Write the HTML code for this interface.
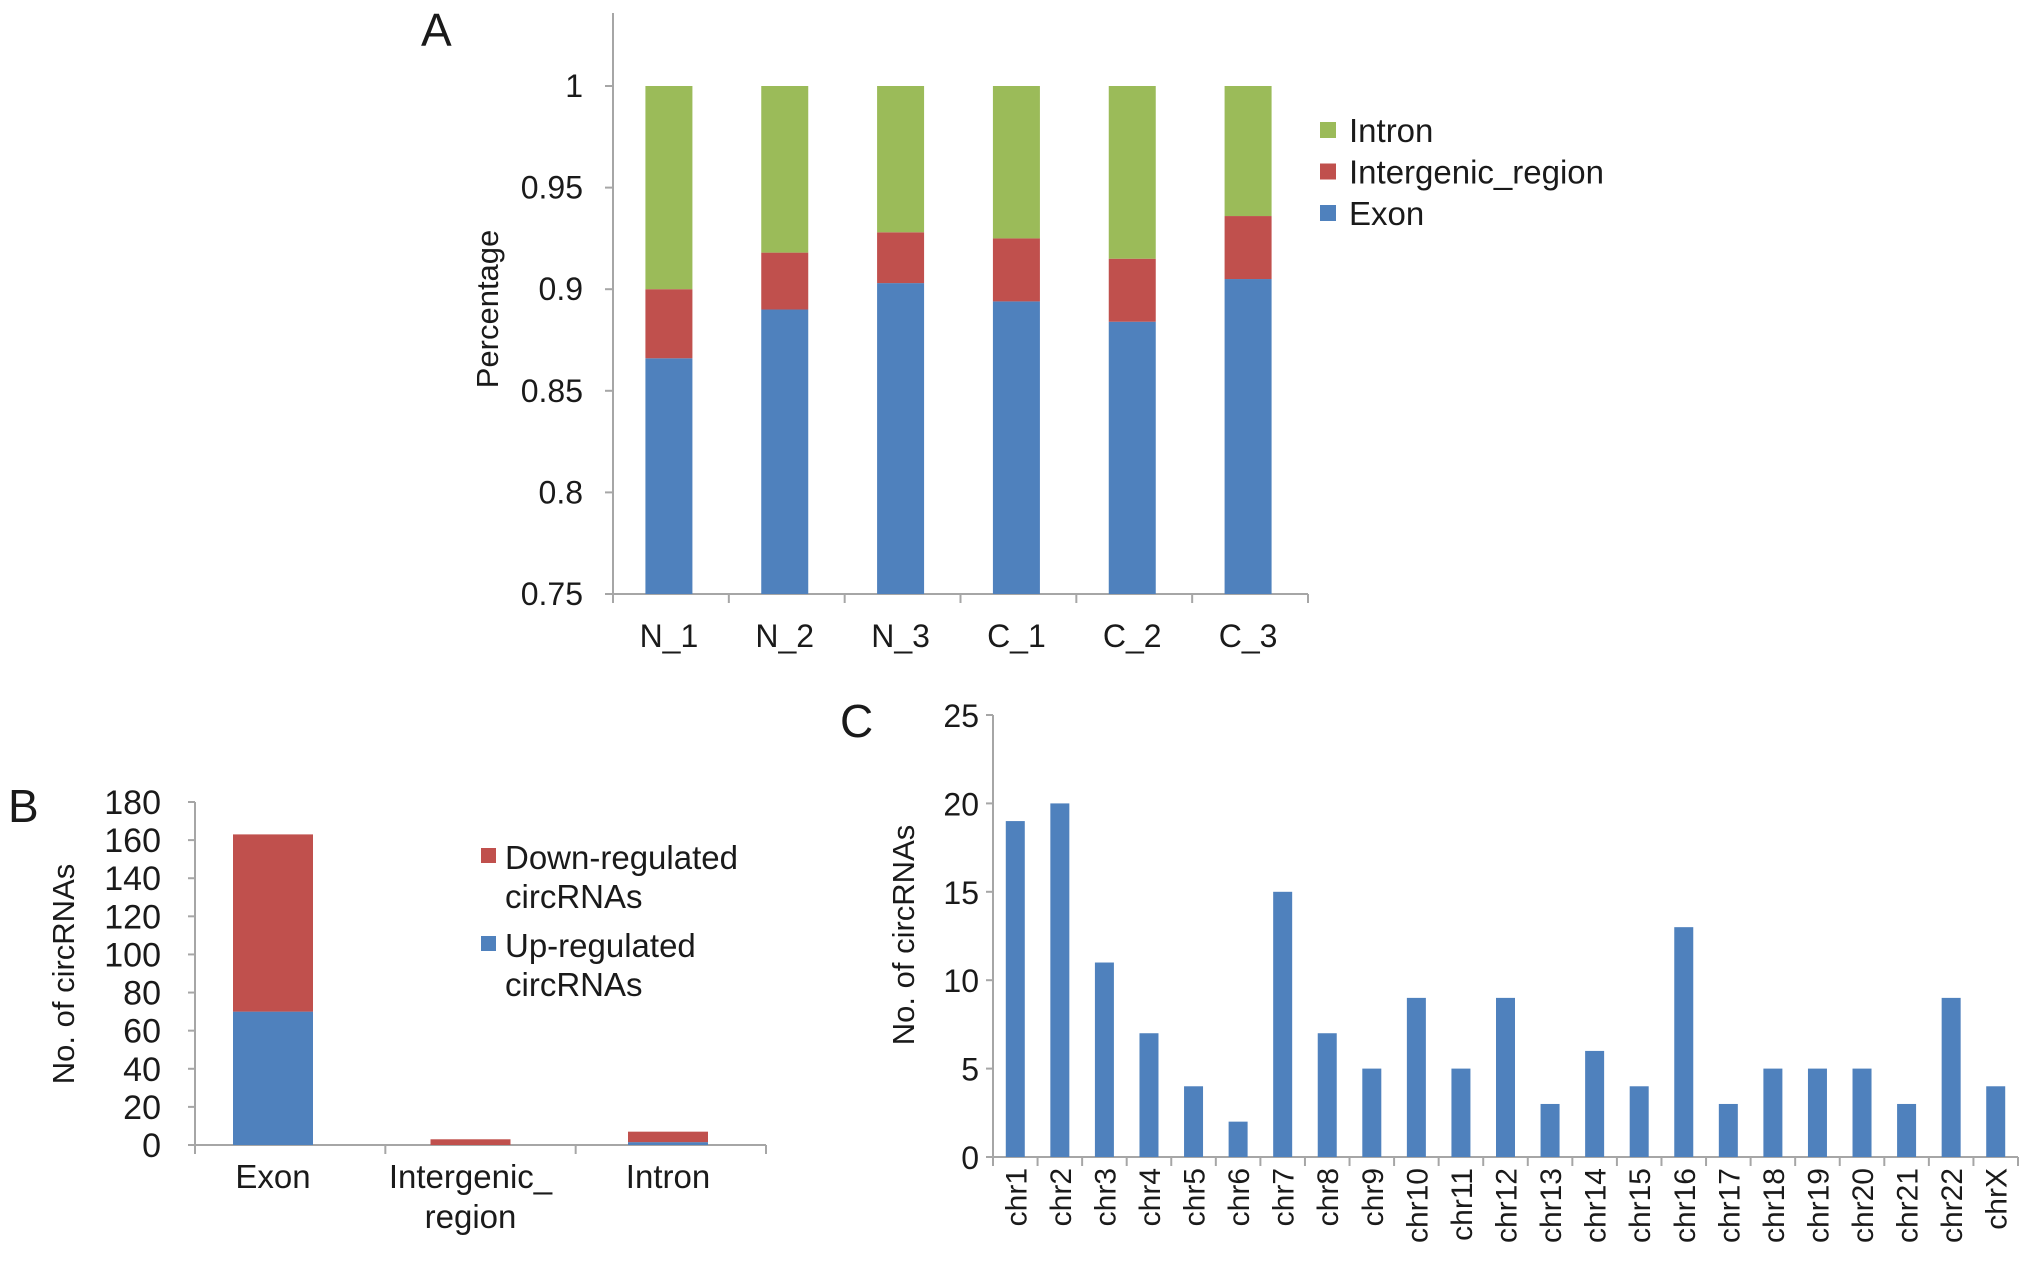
<!DOCTYPE html>
<html><head><meta charset="utf-8"><style>
body{margin:0;background:#fff}
svg{display:block;font-family:"Liberation Sans",sans-serif;fill:#1a1a1a}
</style></head><body>
<svg id="s" width="2032" height="1266" viewBox="0 0 2032 1266"></svg>
<script>
// Panel A data
const aCats=["N_1","N_2","N_3","C_1","C_2","C_3"];
const aExon=[0.866,0.890,0.903,0.894,0.884,0.905];
const aInter=[0.034,0.028,0.025,0.031,0.031,0.031];
const aIntron=[0.100,0.082,0.072,0.075,0.085,0.064];
const aTicks=[0.75,0.8,0.85,0.9,0.95,1];
const aTickLabels=["0.75","0.8","0.85","0.9","0.95","1"];
// Panel B data
const bCats=[["Exon"],["Intergenic_","region"],["Intron"]];
const bUp=[70,0,1.5];
const bDown=[93,3,5.5];
const bTicks=[0,20,40,60,80,100,120,140,160,180];
// Panel C data
const cCats=["chr1","chr2","chr3","chr4","chr5","chr6","chr7","chr8","chr9","chr10","chr11","chr12","chr13","chr14","chr15","chr16","chr17","chr18","chr19","chr20","chr21","chr22","chrX"];
const cVals=[19,20,11,7,4,2,15,7,5,9,5,9,3,6,4,13,3,5,5,5,3,9,4];
const cTicks=[0,5,10,15,20,25];

const NS="http://www.w3.org/2000/svg";
const s=document.getElementById('s');
function mk(t,a,p){const e=document.createElementNS(NS,t);for(const k in a)e.setAttribute(k,a[k]);(p||s).appendChild(e);return e;}
const BLUE="#4f81bd",RED="#c0504d",GREEN="#9bbb59",AX="#a6a6a6";

// ---------- Panel A ----------
{
const x0=613,x1=1308,yTop=86,yBot=594,lo=0.75,hi=1;
const y=v=>yBot-(v-lo)/(hi-lo)*(yBot-yTop);
const step=(x1-x0)/aCats.length;
const t=mk('text',{x:421,y:46,'font-size':46});t.textContent="A";

let e=mk('line',{x1:x0,y1:13,x2:x0,y2:yBot,stroke:AX,'stroke-width':2});

e=mk('line',{x1:x0,y1:yBot,x2:x1,y2:yBot,stroke:AX,'stroke-width':2});

aTicks.forEach((v,i)=>{
 mk('line',{x1:x0-8,y1:y(v),x2:x0,y2:y(v),stroke:AX,'stroke-width':2});
 const l=mk('text',{x:x0-30,y:y(v)+11,'font-size':32,'text-anchor':'end'});l.textContent=aTickLabels[i];
 
});
for(let i=0;i<=aCats.length;i++)mk('line',{x1:x0+i*step,y1:yBot,x2:x0+i*step,y2:yBot+9,stroke:AX,'stroke-width':2});
aCats.forEach((c,i)=>{
 const cx=x0+step*(i+0.5)-2,w=47;
 const b1=aExon[i],b2=b1+aInter[i],b3=b2+aIntron[i];
 let r=mk('rect',{x:cx-w/2,y:y(b1),width:w,height:yBot-y(b1),fill:BLUE});
 
 r=mk('rect',{x:cx-w/2,y:y(b2),width:w,height:y(b1)-y(b2),fill:RED});
 
 r=mk('rect',{x:cx-w/2,y:y(b3),width:w,height:y(b2)-y(b3),fill:GREEN});
 
 const l=mk('text',{x:cx,y:647,'font-size':32,'text-anchor':'middle'});l.textContent=c;
 
});
const yt=mk('text',{x:0,y:0,'font-size':31,'text-anchor':'middle',transform:'translate(498,309) rotate(-90)'});yt.textContent="Percentage";

[["Intron",GREEN],["Intergenic_region",RED],["Exon",BLUE]].forEach((d,i)=>{
 const yy=130+i*41.5;
 const g=mk('g',{});
 
 mk('rect',{x:1320,y:yy-8,width:16,height:16,fill:d[1]},g);
 const l=mk('text',{x:1349,y:yy+12,'font-size':33},g);l.textContent=d[0];
});
}

// ---------- Panel B ----------
{
const x0=195,x1=766,yTop=802,yBot=1145,hi=180;
const y=v=>yBot-v/hi*(yBot-yTop);
const step=(x1-x0)/bCats.length;
const cxOf=i=>x0+78+i*197.5;
const t=mk('text',{x:8,y:822,'font-size':46});t.textContent="B";

let e=mk('line',{x1:x0,y1:yTop,x2:x0,y2:yBot,stroke:AX,'stroke-width':2});

e=mk('line',{x1:x0,y1:yBot,x2:x1,y2:yBot,stroke:AX,'stroke-width':2});

bTicks.forEach(v=>{
 mk('line',{x1:x0-7,y1:y(v),x2:x0,y2:y(v),stroke:AX,'stroke-width':2});
 const l=mk('text',{x:x0-34,y:y(v)+12,'font-size':34,'text-anchor':'end'});l.textContent=v;
 
});
for(let i=0;i<=bCats.length;i++)mk('line',{x1:x0+i*step,y1:yBot,x2:x0+i*step,y2:yBot+9,stroke:AX,'stroke-width':2});
bCats.forEach((c,i)=>{
 const cx=cxOf(i),w=80;
 const u=bUp[i],d=u+bDown[i];
 let r=mk('rect',{x:cx-w/2,y:y(u),width:w,height:yBot-y(u),fill:BLUE});
 
 r=mk('rect',{x:cx-w/2,y:y(d),width:w,height:y(u)-y(d),fill:RED});
 
 c.forEach((ln,j)=>{const l=mk('text',{x:cx,y:1188+j*40,'font-size':33,'text-anchor':'middle'});l.textContent=ln;
 });
});
const yt=mk('text',{x:0,y:0,'font-size':31,'text-anchor':'middle',transform:'translate(74,974) rotate(-90)'});yt.textContent="No. of circRNAs";

[["Down-regulated","circRNAs",RED,857],["Up-regulated","circRNAs",BLUE,945]].forEach(d=>{
 const g=mk('g',{});
 
 mk('rect',{x:481,y:d[3]-9,width:15,height:15,fill:d[2]},g);
 let l=mk('text',{x:505,y:d[3]+12,'font-size':33},g);l.textContent=d[0];
 l=mk('text',{x:505,y:d[3]+51,'font-size':33},g);l.textContent=d[1];
});
}

// ---------- Panel C ----------
{
const x0=993,x1=2018,yTop=715,yBot=1157,hi=25;
const y=v=>yBot-v/hi*(yBot-yTop);
const step=(x1-x0)/cCats.length;
const t=mk('text',{x:840,y:737,'font-size':46});t.textContent="C";

let e=mk('line',{x1:x0,y1:yTop,x2:x0,y2:yBot,stroke:AX,'stroke-width':2});

e=mk('line',{x1:x0,y1:yBot,x2:x1,y2:yBot,stroke:AX,'stroke-width':2});

cTicks.forEach(v=>{
 mk('line',{x1:x0-7,y1:y(v),x2:x0,y2:y(v),stroke:AX,'stroke-width':2});
 const l=mk('text',{x:x0-14,y:y(v)+12,'font-size':32,'text-anchor':'end'});l.textContent=v;
 
});
for(let i=0;i<=cCats.length;i++)mk('line',{x1:x0+i*step,y1:yBot,x2:x0+i*step,y2:yBot+9,stroke:AX,'stroke-width':2});
cCats.forEach((c,i)=>{
 const cx=x0+step*(i+0.5),w=19;
 const r=mk('rect',{x:cx-w/2,y:y(cVals[i]),width:w,height:yBot-y(cVals[i]),fill:BLUE});
 
 const l=mk('text',{x:0,y:0,'font-size':30,'text-anchor':'end',transform:`translate(${cx+11},1168) rotate(-90)`});l.textContent=c;
 
});
const yt=mk('text',{x:0,y:0,'font-size':31,'text-anchor':'middle',transform:'translate(914,935) rotate(-90)'});yt.textContent="No. of circRNAs";

}
</script>
</body></html>
